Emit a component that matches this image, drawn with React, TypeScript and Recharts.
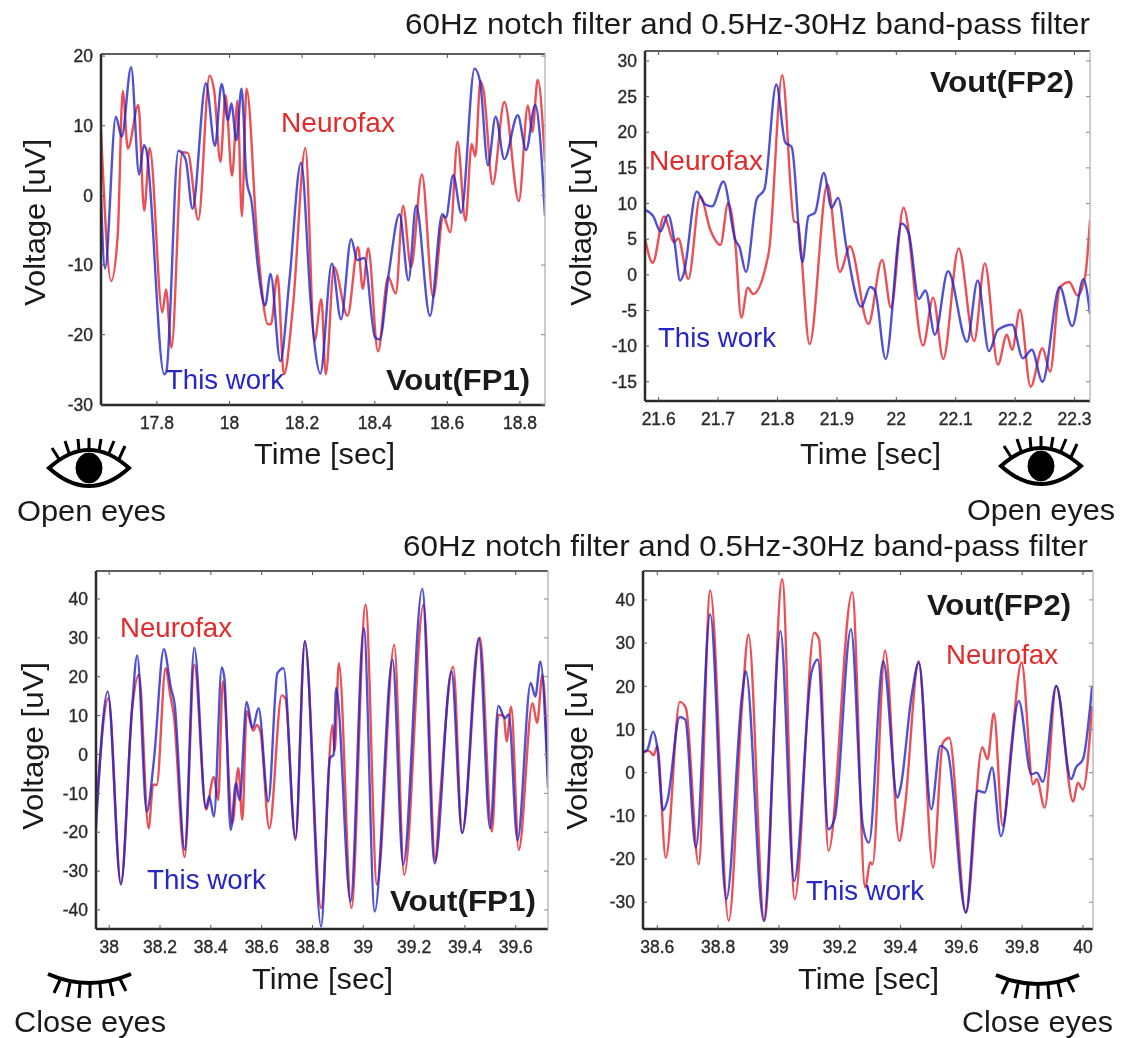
import React from 'react';
import { LineChart, Line, XAxis, YAxis } from 'recharts';

// ---- Panel A: open eyes, FP1 ----
const a_redT = [17.646,17.674,17.692,17.706,17.72,17.749,17.765,17.78,17.815,17.825,17.84,17.87,17.885,17.914,17.945,17.958,17.975,17.989,18.007,18.022,18.034,18.047,18.077,18.106,18.114,18.132,18.15,18.175,18.209,18.234,18.253,18.265,18.288,18.325,18.354,18.367,18.382,18.409,18.437,18.458,18.478,18.5,18.53,18.561,18.589,18.608,18.628,18.65,18.667,18.677,18.691,18.7,18.725,18.757,18.797,18.822,18.834,18.849,18.869];
const a_redV = [9.4,-12.3,-5.8,15,6.7,13,-2.2,6.8,-16.8,-13.5,-21.9,6.2,6.1,-3.5,17.2,14.9,4.8,14.4,2.8,13.6,-3,15.3,-6.9,-18.5,-18.5,-11.5,-25.7,-15.8,6.8,-20.9,-14.9,-25.7,-10.3,-17.3,-7.4,-13.4,-7.6,-22.4,-11.7,-14.1,-1.5,-10.3,3,-14.6,-3,-5.3,7.7,-3.7,7.4,5.6,16.4,15,1.6,13.4,-0.8,12.9,9.1,16.6,4.8];
const a_blueT = [17.646,17.657,17.687,17.703,17.729,17.751,17.764,17.77,17.82,17.826,17.859,17.879,17.898,17.935,17.96,17.978,17.996,18.005,18.019,18.033,18.047,18.061,18.078,18.098,18.113,18.14,18.165,18.197,18.224,18.234,18.25,18.282,18.307,18.335,18.352,18.371,18.401,18.413,18.44,18.468,18.493,18.514,18.552,18.586,18.596,18.616,18.638,18.675,18.69,18.712,18.733,18.757,18.794,18.817,18.842,18.857,18.869];
const a_blueV = [0,-10.5,11.3,8.4,18.4,3,7.2,6.7,-25.7,-25.3,6.4,5.2,-1.9,16.1,7.1,16,10.8,13.2,7.9,15.3,2.3,-1,-10.2,-15.8,-11.3,-23.8,-12.2,4.7,-15.6,-21.3,-25.6,-9.8,-17.8,-6.3,-9.3,-9,-20.4,-20.7,-10.7,-2.7,-12.2,-1.5,-17.3,-2.7,-3.2,2.9,-2.5,18.2,16.4,4.3,11.3,5.2,11.5,6.5,13,7.2,-3];
const a_xTicks = [17.8,18,18.2,18.4,18.6,18.8];
const a_yTicks = [-30,-20,-10,0,10,20];

// ---- Panel B: open eyes, FP2 ----
const b_redT = [21.577,21.59,21.609,21.626,21.633,21.65,21.67,21.687,21.704,21.717,21.729,21.739,21.75,21.759,21.78,21.786,21.808,21.828,21.834,21.854,21.884,21.905,21.922,21.953,21.976,21.991,22.012,22.045,22.062,22.079,22.105,22.131,22.149,22.171,22.186,22.195,22.208,22.226,22.246,22.259,22.275,22.291,22.305,22.318,22.326];
const b_redV = [5.1,1.7,8.2,4.6,5.1,-0.6,11,6.3,4.2,10.1,4.4,-6,-1.8,-2.7,1.1,3.5,28,7.5,7.3,-9.7,12.7,0.4,4,-6.9,2.1,-4.6,9.4,-9.9,-3.2,-11.8,3.7,-9.3,1.6,-12.6,-8.4,-10.5,-4.9,-15.7,-10.3,-13.6,-1.8,-1,-2.9,-0.1,7.7];
const b_blueT = [21.577,21.591,21.603,21.616,21.627,21.636,21.642,21.664,21.678,21.69,21.709,21.729,21.736,21.747,21.765,21.778,21.798,21.813,21.824,21.842,21.852,21.863,21.878,21.891,21.902,21.916,21.941,21.956,21.964,21.982,22.009,22.021,22.038,22.049,22.065,22.087,22.119,22.137,22.156,22.171,22.195,22.213,22.228,22.246,22.275,22.296,22.315,22.326];
const b_blueV = [9.1,8.2,6.1,8.4,4.4,-0.8,0.1,11.7,9.9,9.6,13.1,4.9,3.9,0.4,10.6,12,26.7,18.6,17.9,1.8,8.2,8.7,14.3,9.4,10.8,3.9,-4.5,-1.7,-2.2,-11.8,7.2,5.8,-3.4,-2.2,-8.4,0.5,-9.4,-0.8,-10.7,-7.7,-7,-11.7,-10.5,-15,-1.7,-7.2,-0.6,-5.5];
const b_xTicks = [21.6,21.7,21.8,21.9,22,22.1,22.2,22.3];
const b_yTicks = [-15,-10,-5,0,5,10,15,20,25,30];

// ---- Panel C: closed eyes, FP1 ----
const c_redT = [37.948,37.997,38.046,38.091,38.117,38.155,38.173,38.187,38.222,38.24,38.254,38.297,38.335,38.381,38.412,38.429,38.447,38.485,38.508,38.524,38.541,38.567,38.581,38.595,38.63,38.679,38.693,38.733,38.77,38.834,38.879,38.887,38.904,38.953,39.009,39.054,39.122,39.161,39.237,39.284,39.298,39.354,39.389,39.459,39.506,39.532,39.553,39.564,39.582,39.612,39.666,39.684,39.705,39.727];
const c_redV = [-14.7,14.5,-33.1,12.3,20.5,-19,-7.8,-7.8,22.2,15.4,10.2,-26.4,23.1,-14.2,-5.8,-11.7,18.8,-17.7,-3.5,-16.8,11.1,6.1,7.6,5.9,-19,15.2,14.5,-22,29.1,-39.5,7.6,0.8,23.5,-39.5,38.5,-33.5,28.2,-31,38.5,-27.5,-15,22.6,-20.2,30.1,-19.8,10.2,9.8,3.3,12.3,-24.5,13.2,8.1,20.5,-6];
const c_blueT = [37.948,37.994,38.046,38.089,38.11,38.148,38.176,38.215,38.243,38.257,38.297,38.335,38.381,38.394,38.412,38.443,38.454,38.478,38.499,38.513,38.541,38.564,38.588,38.626,38.662,38.686,38.733,38.77,38.834,38.869,38.883,38.893,38.95,39.002,39.045,39.115,39.157,39.232,39.281,39.347,39.389,39.455,39.499,39.532,39.558,39.572,39.607,39.659,39.677,39.697,39.727];
const c_blueV = [-19,16.2,-33.5,11.1,25.5,-14.7,-1.4,27.1,17.1,13.2,-24.5,27.5,-13.8,-10.8,-16,22.4,19.2,-19.4,-7.4,-11.7,13.5,6.8,11.9,-12.1,20.9,22.2,-21.5,29.2,-44.3,-0.9,-0.1,17.1,-37.8,32.5,-40.4,24.4,-28.4,42.6,-28,21.4,-20.2,29.9,-19,12.5,9.3,10.3,-22,18.4,14.9,23.9,-8.7];
const c_xTicks = [38,38.2,38.4,38.6,38.8,39,39.2,39.4,39.6];
const c_yTicks = [-40,-30,-20,-10,0,10,20,30,40];

// ---- Panel D: closed eyes, FP2 ----
const d_redT = [38.553,38.574,38.588,38.6,38.628,38.674,38.694,38.736,38.774,38.835,38.879,38.9,38.952,39.011,39.052,39.116,39.132,39.163,39.241,39.284,39.3,39.308,39.349,39.396,39.413,39.46,39.507,39.539,39.56,39.615,39.669,39.686,39.707,39.736,39.765,39.798,39.836,39.848,39.874,39.912,39.968,39.983,40,40.03];
const d_redV = [5,5,4,6.2,-19.7,16.4,15,-21.2,42.2,-34.3,15.8,32,-34.3,44.8,-29.3,32.4,30.9,-18.1,41.8,-26.6,-20.8,-21.2,28.3,-15.8,-8.9,25.8,-22,6.9,8.1,-32.4,5.9,3.1,13.7,-12.3,6.6,25.5,-2.7,-1.5,-8.1,20.1,-6.7,-2.3,-3.9,15.4];
const d_blueT = [38.553,38.568,38.586,38.6,38.619,38.633,38.674,38.692,38.727,38.774,38.827,38.879,38.891,38.95,39.005,39.05,39.108,39.128,39.163,39.184,39.237,39.276,39.296,39.343,39.39,39.4,39.437,39.46,39.501,39.531,39.554,39.615,39.654,39.677,39.701,39.73,39.789,39.83,39.848,39.868,39.912,39.961,39.977,40,40.03];
const d_blueV = [4.6,5.4,9.5,5.8,-8.7,-6.6,12.9,12.3,-17.4,36.7,-29.3,18.1,23.5,-34.3,32.8,-25.1,23.5,26.2,-13.1,-10.4,33.2,-12.3,-16.2,25.8,-5.8,-3.5,18.1,25.4,-8.5,6.2,5,-32.4,-4.2,-4.6,1.2,-14.7,16.6,-0.4,0,-2.1,20.1,-1.5,1.2,3.1,20];
const d_xTicks = [38.6,38.8,39,39.2,39.4,39.6,39.8,40];
const d_yTicks = [-30,-20,-10,0,10,20,30,40];

const RED = '#e8383f';
const BLUE = '#2020c8';
const FONT = '"Liberation Sans", Arial, sans-serif';

const pts = (t: number[], v: number[]) => t.map((x, i) => ({ t: x, v: v[i] }));

type PanelProps = {
  left: number; top: number; width: number; height: number;
  xDomain: [number, number]; yDomain: [number, number];
  xTicks: number[]; yTicks: number[];
  redT: number[]; redV: number[]; blueT: number[]; blueV: number[];
};

const GUTTER_L = 70, GUTTER_B = 40, GUTTER_T = 16, GUTTER_R = 22;

function Panel(p: PanelProps) {
  const tickStyle = { fontSize: 17.5, fontFamily: FONT, fill: '#2a2a2a', stroke: '#2a2a2a', strokeWidth: 0.35 };
  const light = { stroke: '#bdbdbd', strokeWidth: 1.5 };
  const dark = { stroke: '#2a2a2a', strokeWidth: 2.5 };
  const blue = pts(p.blueT, p.blueV);
  return (
    <div style={{ position: 'absolute', left: p.left - GUTTER_L, top: p.top - GUTTER_T }}>
      <LineChart
        width={p.width + GUTTER_L + GUTTER_R}
        height={p.height + GUTTER_T + GUTTER_B}
        margin={{ top: 0, right: 0, bottom: 0, left: 0 }}
      >
        <XAxis dataKey="t" type="number" domain={p.xDomain} ticks={p.xTicks} allowDataOverflow interval={0}
          height={GUTTER_B} axisLine={dark} tickLine={{ stroke: '#555' }} tickSize={-4} tickMargin={16} tick={tickStyle} />
        <XAxis xAxisId="top" orientation="top" dataKey="t" type="number" domain={p.xDomain} ticks={p.xTicks} allowDataOverflow interval={0}
          height={GUTTER_T} axisLine={{ stroke: '#2a2a2a', strokeWidth: 1.5 }} tickLine={{ stroke: '#555' }} tickSize={-4} tickFormatter={() => ''} />
        <YAxis type="number" domain={p.yDomain} ticks={p.yTicks} allowDataOverflow interval={0}
          width={GUTTER_L} axisLine={dark} tickLine={{ stroke: '#555' }} tickSize={-4} tickMargin={12} tick={tickStyle} />
        <YAxis yAxisId="right" orientation="right" type="number" domain={p.yDomain} ticks={p.yTicks} allowDataOverflow interval={0}
          width={GUTTER_R} axisLine={light} tickLine={{ stroke: '#888' }} tickSize={-4} tickFormatter={() => ''} />
        <Line xAxisId="top" yAxisId="right" data={blue} dataKey="v" stroke="none" dot={false} legendType="none" isAnimationActive={false} />
        <Line data={pts(p.redT, p.redV)} dataKey="v" type="monotone" stroke={RED} strokeWidth={2.4} strokeOpacity={0.88} dot={false} isAnimationActive={false} />
        <Line data={blue} dataKey="v" type="monotone" stroke={BLUE} strokeWidth={2.4} strokeOpacity={0.78} dot={false} isAnimationActive={false} />
      </LineChart>
    </div>
  );
}

function T(props: { x0: number; x1: number; y: number; s?: number; c?: string; b?: boolean; children: string }) {
  return (
    <text x={props.x0} y={props.y} textLength={props.x1 - props.x0} lengthAdjust="spacingAndGlyphs"
      dominantBaseline="central" fontFamily={FONT} fontSize={props.s ?? 30} fill={props.c ?? '#1a1a1a'}
      fontWeight={props.b ? 700 : 400}>{props.children}</text>
  );
}

function VLabel({ x, y0, y1 }: { x: number; y0: number; y1: number }) {
  return (
    <text transform={`translate(${x},${y1}) rotate(-90)`} textLength={y1 - y0} lengthAdjust="spacingAndGlyphs"
      dominantBaseline="central" fontFamily={FONT} fontSize={30} fill="#1a1a1a">Voltage [uV]</text>
  );
}

function OpenEye({ x, y }: { x: number; y: number }) {
  const lashes = [[12, 21, 5, 10], [22, 15, 18, 3], [32, 13, 31, 1], [42, 12, 42, 0], [52, 13, 54, 1], [62, 15, 67, 3], [72, 21, 78, 8]];
  return (
    <g transform={`translate(${x},${y})`} stroke="#000" fill="none">
      <path d="M2,30 Q42,-6 82,30 Q42,66 2,30 Z" strokeWidth={4} />
      <ellipse cx={42} cy={30} rx={13} ry={15} fill="#000" />
      {lashes.map((l, i) => <line key={i} x1={l[0]} y1={l[1]} x2={l[2]} y2={l[3]} strokeWidth={3} />)}
    </g>
  );
}

function ClosedEye({ x, y }: { x: number; y: number }) {
  const lashes = [[12, 7, 6, 20], [22, 10, 19, 24], [32, 11, 31, 25], [42, 11, 42, 25], [52, 11, 53, 25], [62, 9, 65, 23], [72, 6, 78, 18]];
  return (
    <g transform={`translate(${x},${y})`} stroke="#000" fill="none">
      <path d="M0,1 Q41,19 83,1" strokeWidth={4} />
      {lashes.map((l, i) => <line key={i} x1={l[0]} y1={l[1]} x2={l[2]} y2={l[3]} strokeWidth={3} />)}
    </g>
  );
}

const NEURO = '#e22a2a';
const WORK = '#2626c8';

export default function App() {
  return (
    <div style={{ position: 'absolute', left: 0, top: 0, width: 1121, height: 1038, background: '#fff', overflow: 'hidden', filter: 'blur(0.7px)' }}>
      <Panel left={101} top={54} width={444} height={351} xDomain={[17.646, 18.869]} yDomain={[-30.1, 20.3]} xTicks={a_xTicks} yTicks={a_yTicks} redT={a_redT} redV={a_redV} blueT={a_blueT} blueV={a_blueV} />
      <Panel left={645} top={51} width={445} height={350} xDomain={[21.577, 22.326]} yDomain={[-17.7, 31.4]} xTicks={b_xTicks} yTicks={b_yTicks} redT={b_redT} redV={b_redV} blueT={b_blueT} blueV={b_blueV} />
      <Panel left={96} top={571} width={452} height={358} xDomain={[37.948, 39.727]} yDomain={[-44.9, 47.2]} xTicks={c_xTicks} yTicks={c_yTicks} redT={c_redT} redV={c_redV} blueT={c_blueT} blueV={c_blueV} />
      <Panel left={643} top={571} width={450} height={358} xDomain={[38.553, 40.033]} yDomain={[-36.2, 46.7]} xTicks={d_xTicks} yTicks={d_yTicks} redT={d_redT} redV={d_redV} blueT={d_blueT} blueV={d_blueV} />
      <svg width={1121} height={1038} style={{ position: 'absolute', left: 0, top: 0, pointerEvents: 'none' }}>
        <T x0={405} x1={1090} y={23}>60Hz notch filter and 0.5Hz-30Hz band-pass filter</T>
        <T x0={403} x1={1088} y={545}>60Hz notch filter and 0.5Hz-30Hz band-pass filter</T>

        <VLabel x={34} y0={139} y1={306} />
        <VLabel x={580} y0={139} y1={306} />
        <VLabel x={32} y0={662} y1={830} />
        <VLabel x={576} y0={662} y1={830} />

        <T x0={254} x1={395} y={453}>Time [sec]</T>
        <T x0={800} x1={941} y={453}>Time [sec]</T>
        <T x0={252} x1={393} y={978}>Time [sec]</T>
        <T x0={798} x1={939} y={978}>Time [sec]</T>

        <T x0={281} x1={395} y={122} s={28} c={NEURO}>Neurofax</T>
        <T x0={166} x1={284} y={379} s={28} c={WORK}>This work</T>
        <T x0={386} x1={530} y={379} b>Vout(FP1)</T>

        <T x0={649} x1={763} y={160} s={28} c={NEURO}>Neurofax</T>
        <T x0={658} x1={776} y={337} s={28} c={WORK}>This work</T>
        <T x0={930} x1={1074} y={81} b>Vout(FP2)</T>

        <T x0={120} x1={232} y={627} s={28} c={NEURO}>Neurofax</T>
        <T x0={147} x1={266} y={879} s={28} c={WORK}>This work</T>
        <T x0={390} x1={536} y={900} b>Vout(FP1)</T>

        <T x0={946} x1={1058} y={654} s={28} c={NEURO}>Neurofax</T>
        <T x0={806} x1={924} y={890} s={28} c={WORK}>This work</T>
        <T x0={927} x1={1071} y={604} b>Vout(FP2)</T>

        <OpenEye x={47} y={438} />
        <OpenEye x={999} y={436} />
        <ClosedEye x={48} y={973} />
        <ClosedEye x={996} y={974} />

        <T x0={17} x1={166} y={510}>Open eyes</T>
        <T x0={967} x1={1115} y={509}>Open eyes</T>
        <T x0={14} x1={166} y={1021}>Close eyes</T>
        <T x0={962} x1={1113} y={1021}>Close eyes</T>
      </svg>
    </div>
  );
}
